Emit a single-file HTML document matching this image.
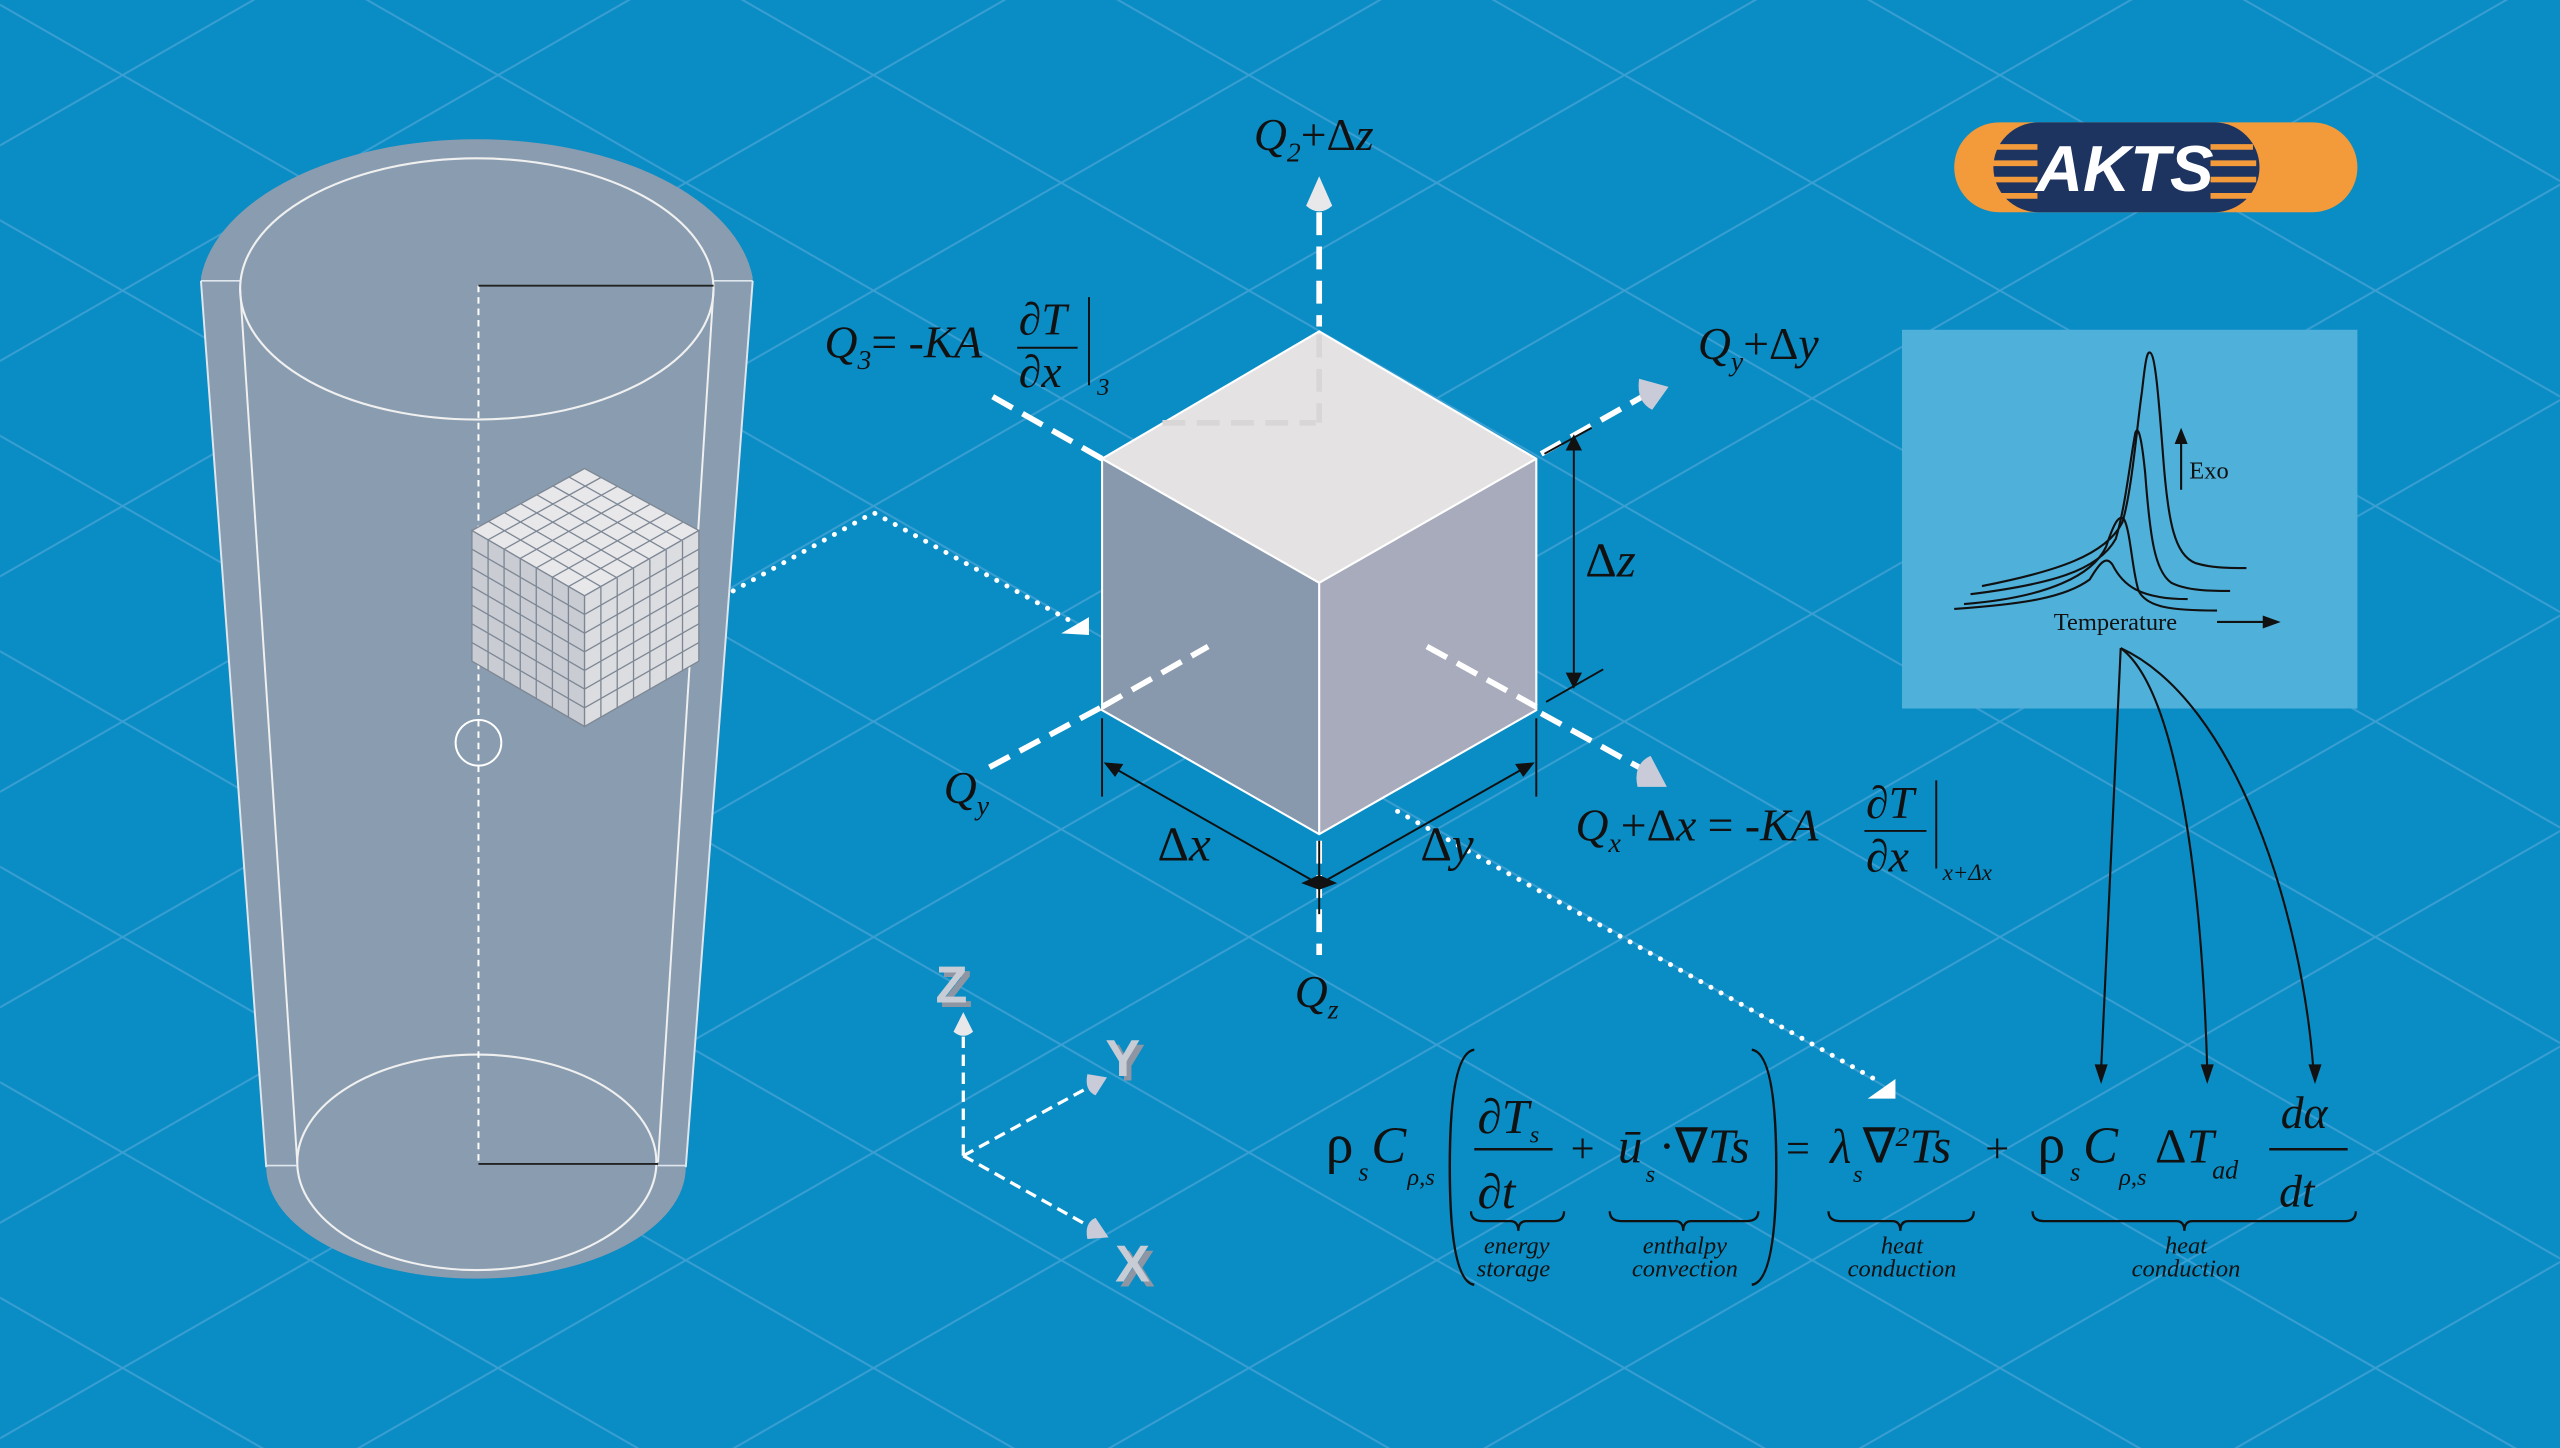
<!DOCTYPE html>
<html><head><meta charset="utf-8"><style>
html,body{margin:0;padding:0;background:#0a8cc4;}
svg{display:block}
text{font-family:"Liberation Serif",serif;font-style:italic;fill:#111;}
text.ax{font-family:"Liberation Sans",sans-serif;font-style:normal;font-weight:bold;font-size:32px;}
</style></head><body>
<svg width="2560" height="1448" viewBox="0 0 1568 887" xmlns="http://www.w3.org/2000/svg">
<defs>
<pattern id="g" width="230" height="132" patternUnits="userSpaceOnUse" x="-40" y="-20">
<path d="M0 0 L230 132 M0 132 L230 0" stroke="#3a9fd2" stroke-width="1.2" fill="none"/>
</pattern>
</defs>
<rect width="1568" height="887" fill="#0a8cc4"/>
<rect width="1568" height="887" fill="url(#g)"/>

<path d="M123 170 A170 95 0 0 1 461 170 L420 715 A128 68 0 0 1 163 715 Z" fill="#8a9db0"/>
<path d="M123 172 L163 715 M461 172 L420 715" stroke="#dfe6ee" stroke-width="1.2" fill="none"/>
<line x1="123" y1="172" x2="147" y2="172" stroke="#dfe6ee" stroke-width="1"/>
<line x1="437" y1="172" x2="461" y2="172" stroke="#dfe6ee" stroke-width="1"/>
<ellipse cx="292" cy="177" rx="145" ry="80" fill="none" stroke="#f0f0f0" stroke-width="1.3"/>
<path d="M147 177 L182 712 M437 177 L403 712" stroke="#f0f0f0" stroke-width="1.2"/>
<ellipse cx="292" cy="712" rx="110" ry="66" fill="none" stroke="#f0f0f0" stroke-width="1.3"/>
<line x1="163" y1="714" x2="182" y2="714" stroke="#dfe6ee" stroke-width="1"/>
<line x1="403" y1="714" x2="420" y2="714" stroke="#dfe6ee" stroke-width="1"/>
<line x1="293" y1="175" x2="293" y2="713" stroke="#fff" stroke-width="1.2" stroke-dasharray="4 3"/>
<line x1="293" y1="175" x2="437" y2="175" stroke="#222" stroke-width="1.2"/>
<line x1="293" y1="713" x2="403" y2="713" stroke="#222" stroke-width="1.2"/>
<circle cx="293" cy="455" r="14" fill="none" stroke="#fff" stroke-width="1.2"/>

<g stroke="#7d8794" stroke-width="0.8">
<polygon points="358,287 428,325 358,365 289,325" fill="#e8e8ea"/>
<polygon points="289,325 358,365 358,445 289,405" fill="#c9ccd2"/>
<polygon points="358,365 428,325 428,405 358,445" fill="#dcdde0"/>
<path d="M298.9 319.3 L368 359.3 M308.7 313.9 L378 354 M318.6 308.4 L388 348.3 M328.4 302.9 L398 342.7 M338.3 297.4 L408 337 M348.1 292 L418 331.3
M298.9 330.7 L368 292.5 M308.7 336.4 L378 298 M318.6 342.1 L388 303.4 M328.4 347.9 L398 309 M338.3 353.6 L408 314.5 M348.1 359.3 L418 320
M289 336.4 L358 376.4 M289 347.9 L358 387.9 M289 359.3 L358 399.3 M289 370.7 L358 410.7 M289 382.1 L358 422.1 M289 393.6 L358 433.6
M298.9 330.7 V410.7 M308.7 336.4 V416.4 M318.6 342.1 V422.1 M328.4 347.9 V427.9 M338.3 353.6 V433.6 M348.1 359.3 V439.3
M358 376.4 L428 336.4 M358 387.9 L428 347.9 M358 399.3 L428 359.3 M358 410.7 L428 370.7 M358 422.1 L428 382.1 M358 433.6 L428 393.6
M368 359.3 V439.3 M378 354 V434 M388 348.3 V428.3 M398 342.7 V422.7 M408 337 V417 M418 331.3 V411.3" fill="none"/>
</g>

<polyline points="449,362 535,314 655,380" fill="none" stroke="#fff" stroke-width="3" stroke-dasharray="0.1 7" stroke-linecap="round"/>
<polygon points="650,388 667,378 667,389" fill="#fff"/>
<polyline points="856,497 1150,662" fill="none" stroke="#fff" stroke-width="3" stroke-dasharray="0.1 7" stroke-linecap="round"/>
<polygon points="1144,673 1161,661 1161,673" fill="#fff"/>

<polygon points="808,203 941,281 808,357 675,281" fill="#e4e2e2"/>
<polygon points="675,281 808,357 808,511 675,435" fill="#8898ad"/>
<polygon points="808,357 941,281 941,435 808,511" fill="#a8abbb"/>
<g stroke="#fff" stroke-width="1.3" fill="none">
<polygon points="808,203 941,281 941,435 808,511 675,435 675,281"/>
<path d="M675 281 L808 357 L941 281 M808 357 V511"/>
</g>
<g stroke="#fff" stroke-width="3.5" stroke-dasharray="14 7" fill="none">
<line x1="808" y1="130" x2="808" y2="200"/>
<line x1="608" y1="243" x2="675" y2="281"/>
<line x1="944" y1="278" x2="1006" y2="243"/>
<line x1="606" y1="470" x2="675" y2="433"/>
<line x1="675" y1="433" x2="740" y2="396"/>
<line x1="874" y1="396" x2="941" y2="433"/>
<line x1="944" y1="437" x2="1004" y2="470"/>
<line x1="808" y1="515" x2="808" y2="585"/>
</g>
<g stroke="#d8d6d6" stroke-width="3.5" stroke-dasharray="14 7" fill="none">
<line x1="808" y1="205" x2="808" y2="259"/>
<line x1="712" y1="259" x2="806" y2="259"/>
</g>
<path d="M808 108 L800 126 Q808 133 816 126 Z" fill="#e8e8ea"/>
<path d="M1022 237 L1004 232 Q1002 246 1012 251 Z" fill="#c9ccd8"/>
<path d="M1021 482 L1003 482 Q1000 468 1011 463 Z" fill="#c9ccd8"/>
<g stroke="#111" stroke-width="1.2" fill="none">
<line x1="964" y1="270" x2="964" y2="418"/>
<line x1="946" y1="278" x2="975" y2="262"/>
<line x1="947" y1="430" x2="982" y2="410"/>
<line x1="675" y1="440" x2="675" y2="488"/>
<line x1="941" y1="440" x2="941" y2="488"/>
<line x1="678" y1="468" x2="805" y2="540"/>
<line x1="938" y1="468" x2="811" y2="540"/>
<line x1="808" y1="515" x2="808" y2="560"/>
</g>
<g fill="#111">
<polygon points="964,266 959,276 969,276"/>
<polygon points="964,422 959,412 969,412"/>
<polygon points="676,467 688,468 683,476"/>
<polygon points="940,467 928,468 933,476"/>
<polygon points="797,541 808,536 808,545"/>
<polygon points="819,541 808,536 808,545"/>
</g>

<text x="768" y="92" font-size="28">Q<tspan font-size="17" dy="7">2</tspan><tspan dy="-7" font-style="normal">+Δ</tspan>z</text>
<text x="505" y="219" font-size="28">Q<tspan font-size="17" dy="7">3</tspan><tspan dy="-7" font-style="normal">=</tspan> -KA</text>
<text x="624" y="205" font-size="28">∂T</text>
<line x1="623" y1="213" x2="660" y2="213" stroke="#111" stroke-width="1.2"/>
<text x="624" y="237" font-size="28">∂x</text>
<line x1="667" y1="182" x2="667" y2="236" stroke="#111" stroke-width="1.2"/>
<text x="672" y="242" font-size="15">3</text>
<text x="1040" y="220" font-size="28">Q<tspan font-size="17" dy="7">y</tspan><tspan dy="-7" font-style="normal">+Δ</tspan>y</text>
<text x="971" y="353" font-size="30"><tspan font-style="normal">Δ</tspan>z</text>
<text x="578" y="492" font-size="28">Q<tspan font-size="17" dy="7">y</tspan></text>
<text x="709" y="527" font-size="30"><tspan font-style="normal">Δ</tspan>x</text>
<text x="870" y="527" font-size="30"><tspan font-style="normal">Δ</tspan>y</text>
<text x="793" y="617" font-size="28">Q<tspan font-size="17" dy="7">z</tspan></text>
<text x="965" y="515" font-size="28">Q<tspan font-size="17" dy="7">x</tspan><tspan dy="-7" font-style="normal">+Δ</tspan>x <tspan font-style="normal">=</tspan> -KA</text>
<text x="1143" y="501" font-size="28">∂T</text>
<line x1="1142" y1="509" x2="1180" y2="509" stroke="#111" stroke-width="1.2"/>
<text x="1143" y="534" font-size="28">∂x</text>
<line x1="1186" y1="478" x2="1186" y2="532" stroke="#111" stroke-width="1.2"/>
<text x="1190" y="539" font-size="14">x+Δx</text>

<g stroke="#fff" stroke-width="2" stroke-dasharray="7 4" fill="none">
<line x1="590" y1="708" x2="590" y2="634"/>
<line x1="590" y1="708" x2="665" y2="667"/>
<line x1="590" y1="708" x2="665" y2="750"/>
</g>
<path d="M590 620 L584 632 Q590 637 596 632 Z" fill="#e8e8ea"/>
<path d="M678 660 L666 658 Q664 668 671 671 Z" fill="#c9ccd8"/>
<path d="M679 758 L666 759 Q664 749 671 746 Z" fill="#c9ccd8"/>
<text class="ax" x="576" y="617" style="fill:#8f96a3">Z</text><text class="ax" x="573" y="614" style="fill:#c8ccd4">Z</text>
<text class="ax" x="680" y="662" style="fill:#8f96a3">Y</text><text class="ax" x="677" y="659" style="fill:#c8ccd4">Y</text>
<text class="ax" x="686" y="788" style="fill:#8f96a3">X</text><text class="ax" x="683" y="785" style="fill:#c8ccd4">X</text>

<rect x="1197" y="75" width="247" height="55" rx="27.5" fill="#f39a3a"/>
<rect x="1221" y="75" width="163" height="55" rx="27.5" fill="#1d3461"/>
<g stroke="#f39a3a" stroke-width="3.5">
<line x1="1222" y1="90" x2="1248" y2="90"/><line x1="1220" y1="100" x2="1248" y2="100"/><line x1="1220" y1="110" x2="1248" y2="110"/><line x1="1222" y1="120" x2="1248" y2="120"/>
<line x1="1354" y1="90" x2="1380" y2="90"/><line x1="1354" y1="100" x2="1382" y2="100"/><line x1="1354" y1="110" x2="1382" y2="110"/><line x1="1354" y1="120" x2="1380" y2="120"/>
</g>
<text x="1247" y="117" font-size="40" font-weight="bold" style="fill:#fff;font-family:'Liberation Sans',sans-serif">AKTS</text>

<rect x="1165" y="202" width="279" height="232" fill="#4fb0da"/>
<g stroke="#111" stroke-width="1.3" fill="none">
<path d="M1214 359 C1260 350 1290 340 1300 320 C1306 300 1309 260 1312 240 C1314 222 1315 215 1317 216 C1320 217 1322 240 1325 280 C1328 320 1332 340 1345 345 C1355 348 1365 348 1376 348"/>
<path d="M1207 364 C1255 358 1285 350 1296 330 C1302 310 1305 280 1308 265 C1310 260 1312 270 1314 290 C1317 330 1320 350 1330 357 C1340 362 1355 362 1366 362"/>
<path d="M1203 370 C1255 366 1282 352 1290 335 C1295 320 1298 315 1301 318 C1305 325 1306 350 1310 362 C1315 372 1330 374 1358 374"/>
<path d="M1197 373 C1240 370 1265 366 1280 355 C1286 345 1290 340 1294 346 C1300 358 1310 367 1340 367"/>
<line x1="1336" y1="300" x2="1336" y2="270"/>
<line x1="1358" y1="381" x2="1388" y2="381"/>
</g>
<polygon points="1336,262 1332,272 1340,272" fill="#111"/>
<polygon points="1397,381 1386,377 1386,385" fill="#111"/>
<text x="1341" y="293" font-size="15" style="font-style:normal">Exo</text>
<text x="1258" y="386" font-size="15" style="font-style:normal">Temperature</text>
<g stroke="#111" stroke-width="1.3" fill="none">
<path d="M1299 397 L1287 655"/>
<path d="M1299 397 C1330 420 1348 520 1352 655"/>
<path d="M1299 397 C1370 430 1410 560 1417 655"/>
</g>
<g fill="#111">
<polygon points="1287,664 1283,652 1291,652"/>
<polygon points="1352,664 1348,652 1356,652"/>
<polygon points="1418,664 1414,652 1422,652"/>
</g>

<text x="812" y="712" font-size="34" style="font-style:normal">ρ</text>
<text x="832" y="723" font-size="16">s</text>
<text x="840" y="712" font-size="32">C</text>
<text x="862" y="726" font-size="15">ρ,s</text>
<path d="M903 643 Q888 645 888 715 Q888 785 903 787" stroke="#111" stroke-width="1.5" fill="none"/>
<text x="905" y="694" font-size="30">∂T</text>
<text x="937" y="700" font-size="15">s</text>
<line x1="903" y1="704" x2="951" y2="704" stroke="#111" stroke-width="1.5"/>
<text x="905" y="740" font-size="30">∂t</text>
<text x="962" y="712" font-size="26" style="font-style:normal">+</text>
<text x="991" y="712" font-size="30">ū</text>
<text x="1008" y="724" font-size="15">s</text>
<text x="1016" y="712" font-size="30"><tspan style="font-style:normal">·∇</tspan>Ts</text>
<path d="M1073 643 Q1088 645 1088 715 Q1088 785 1073 787" stroke="#111" stroke-width="1.5" fill="none"/>
<text x="1094" y="712" font-size="26" style="font-style:normal">=</text>
<text x="1121" y="712" font-size="30">λ</text>
<text x="1135" y="724" font-size="15">s</text>
<text x="1141" y="712" font-size="30"><tspan style="font-style:normal">∇</tspan><tspan font-size="17" dy="-10">2</tspan><tspan dy="10">Ts</tspan></text>
<text x="1216" y="712" font-size="26" style="font-style:normal">+</text>
<text x="1248" y="712" font-size="34" style="font-style:normal">ρ</text>
<text x="1268" y="723" font-size="16">s</text>
<text x="1276" y="712" font-size="32">C</text>
<text x="1298" y="726" font-size="15">ρ,s</text>
<text x="1320" y="712" font-size="30"><tspan style="font-style:normal">Δ</tspan>T</text>
<text x="1355" y="722" font-size="16">ad</text>
<text x="1397" y="691" font-size="28">dα</text>
<line x1="1390" y1="704" x2="1438" y2="704" stroke="#111" stroke-width="1.5"/>
<text x="1396" y="739" font-size="28">dt</text>
<g stroke="#111" stroke-width="1.4" fill="none">
<path d="M901 742 Q901 748 908 748 L925 748 Q930 748 930 754 Q930 748 935 748 L952 748 Q958 748 958 742"/>
<path d="M986 742 Q986 748 993 748 L1026 748 Q1031 748 1031 754 Q1031 748 1036 748 L1070 748 Q1077 748 1077 742"/>
<path d="M1120 742 Q1120 748 1127 748 L1159 748 Q1164 748 1164 754 Q1164 748 1169 748 L1203 748 Q1209 748 1209 742"/>
<path d="M1245 742 Q1245 748 1252 748 L1333 748 Q1338 748 1338 754 Q1338 748 1343 748 L1437 748 Q1443 748 1443 742"/>
</g>
<g font-size="15" text-anchor="middle">
<text x="929" y="768">energy</text><text x="927" y="782">storage</text>
<text x="1032" y="768">enthalpy</text><text x="1032" y="782">convection</text>
<text x="1165" y="768">heat</text><text x="1165" y="782">conduction</text>
<text x="1339" y="768">heat</text><text x="1339" y="782">conduction</text>
</g>
</svg>
</body></html>
